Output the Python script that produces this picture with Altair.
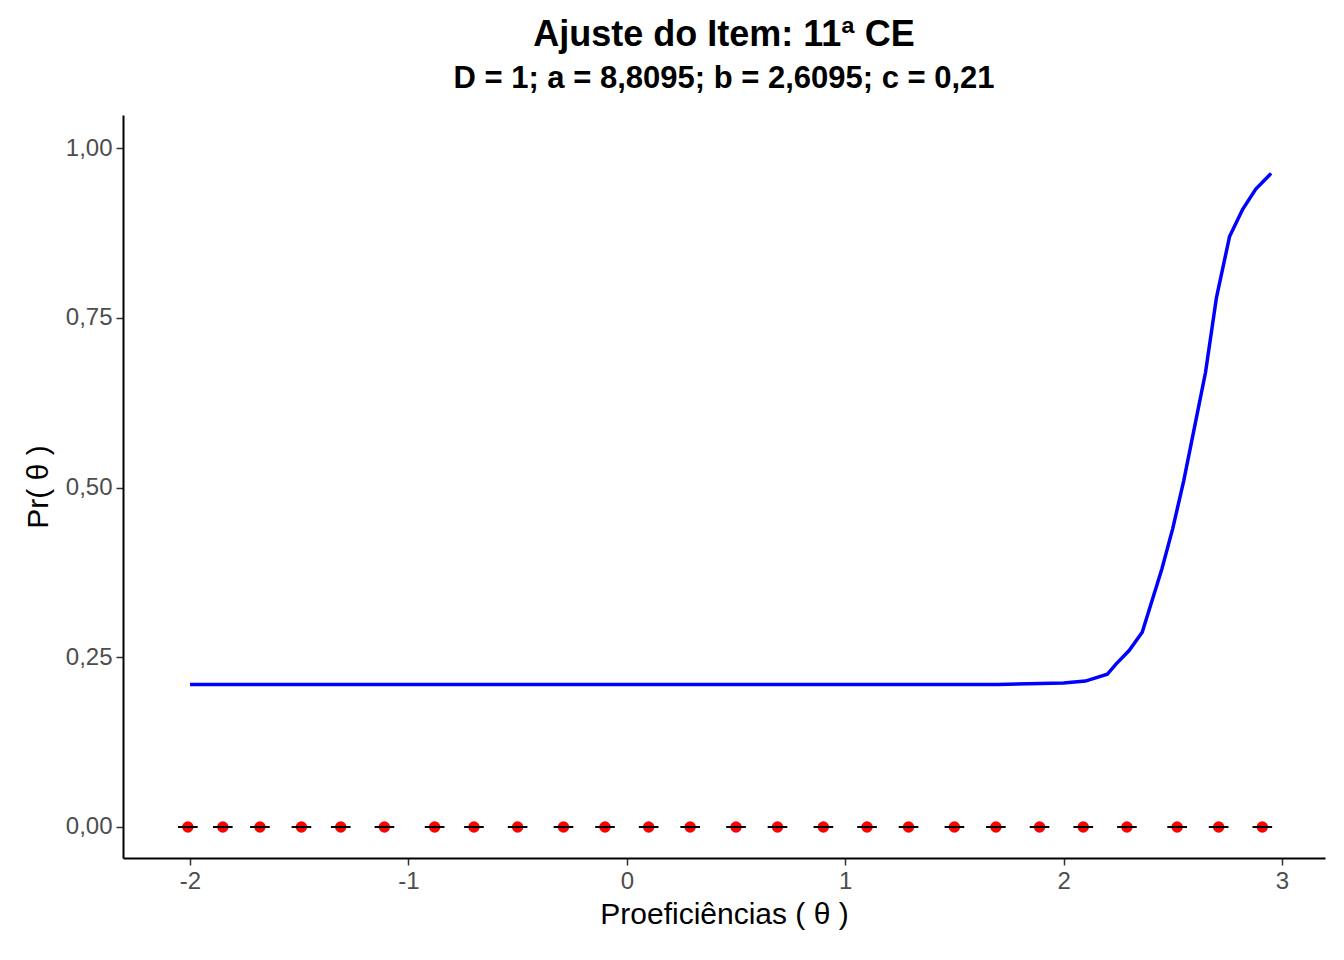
import pandas as pd
import altair as alt

# observed points (all at zero)
obs_theta = [-2.01, -1.85, -1.68, -1.49, -1.31, -1.11, -0.88, -0.70, -0.50, -0.29,
             -0.10, 0.10, 0.29, 0.50, 0.69, 0.90, 1.10, 1.29, 1.50, 1.69,
             1.89, 2.09, 2.29, 2.52, 2.71, 2.91]
obs_prop = [0.0] * len(obs_theta)

# fitted curve
curve_theta = [-2.0, -1.0, 0.0, 1.0, 1.7, 2.0, 2.1, 2.2, 2.24, 2.3, 2.36, 2.45,
               2.5, 2.55, 2.6, 2.65, 2.7, 2.76, 2.82, 2.88, 2.95]
curve_prob = [0.21, 0.21, 0.21, 0.21, 0.21, 0.212, 0.215, 0.225, 0.24, 0.26, 0.287, 0.38,
              0.44, 0.51, 0.59, 0.67, 0.78, 0.87, 0.91, 0.94, 0.963]

obs = pd.DataFrame({'theta': obs_theta, 'prop': obs_prop})
obs['lo'] = obs['theta'] - 0.045
obs['hi'] = obs['theta'] + 0.045
curve = pd.DataFrame({'theta': curve_theta, 'prob': curve_prob})

xs = alt.Scale(domain=[-2.307, 3.197], nice=False, zero=False)
ys = alt.Scale(domain=[-0.0457, 1.049], nice=False, zero=False)

x_axis = alt.Axis(values=[-2, -1, 0, 1, 2, 3], grid=False, title='Proeficiências ( θ )',
                  labelExpr="replace(format(datum.value, '.0f'), '\u2212', '-')")
y_axis = alt.Axis(values=[0, 0.25, 0.5, 0.75, 1.0], grid=False, title='Pr( θ )',
                  labelExpr="replace(format(datum.value, '.2f'), '.', ',')")

line = alt.Chart(curve).mark_line(color='blue', strokeWidth=3.5).encode(
    x=alt.X('theta:Q', scale=xs, axis=x_axis),
    y=alt.Y('prob:Q', scale=ys, axis=y_axis)
)

points = alt.Chart(obs).mark_point(filled=True, color='red', size=130, opacity=1, shape='circle').encode(
    x=alt.X('theta:Q', scale=xs),
    y=alt.Y('prop:Q', scale=ys)
)

bars = alt.Chart(obs).mark_rule(color='black', strokeWidth=2).encode(
    x=alt.X('lo:Q', scale=xs),
    x2='hi:Q',
    y=alt.Y('prop:Q', scale=ys)
)

chart = alt.layer(line, points, bars).properties(
    width=1202,
    height=743,
    autosize=alt.AutoSizeParams(type='none'),
    padding={'left': 115, 'top': 107, 'right': 11, 'bottom': 94},
    title=alt.Title('Ajuste do Item: 11ª CE', subtitle='D = 1; a = 8,8095; b = 2,6095; c = 0,21',
                    fontSize=36, subtitleFontSize=31, fontWeight='bold', subtitleFontWeight='bold',
                    font='Liberation Sans', subtitleFont='Liberation Sans', color='black',
                    subtitleColor='black', anchor='middle', offset=20, subtitlePadding=10)
).configure_view(stroke=None).configure_axis(
    domainColor='black', domainWidth=2, tickColor='#333333', tickSize=7, tickWidth=1.5,
    labelFont='Liberation Sans', labelFontSize=24, labelColor='#4d4d4d', labelPadding=4,
    titleFont='Liberation Sans', titleFontSize=30, titleFontWeight='normal', titleColor='black'
).configure_axisY(titlePadding=12).configure_axisX(titlePadding=6)

chart.save("out.html", embed_options={"renderer": "svg", "actions": False})
